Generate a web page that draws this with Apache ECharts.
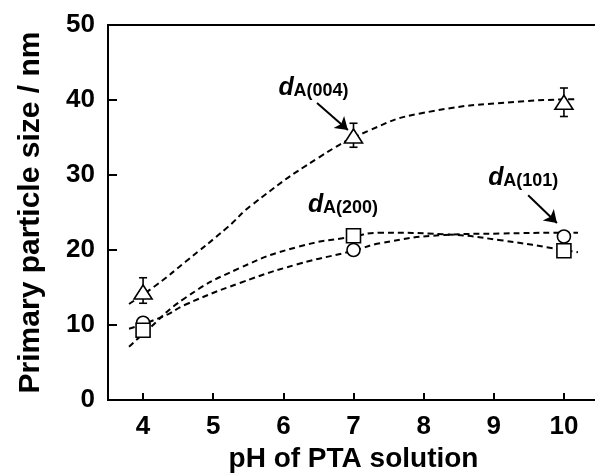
<!DOCTYPE html>
<html>
<head>
<meta charset="utf-8">
<script src="https://cdn.jsdelivr.net/npm/echarts@6/dist/echarts.min.js"></script>
<style>html,body{margin:0;padding:0;background:#fff}#main{width:595px;height:476px}</style>
</head>
<body>
<div id="main"></div>
<script>
var phTicks = [4, 5, 6, 7, 8, 9, 10];
var ph = [4, 7, 10];
// measured sizes (nm)
var d004 = [14.4, 35.2, 39.7];
var d004Low = [12.9, 33.7, 37.8];
var d004High = [16.3, 36.9, 41.6];
var d101 = [10.3, 20.0, 21.8];
var d200 = [9.3, 21.9, 19.9];
// dashed guide curves
var fit004 = [[3.8, 12.8], [4.2, 15.4], [4.6, 18.4], [5.2, 23.0], [5.55, 26.0], [6.5, 32.3], [7.24, 36.0], [7.95, 38.2], [9.38, 39.8], [10.2, 40.1]];
var fit200 = [[3.8, 7.1], [4.0, 8.8], [4.6, 13.6], [5.38, 17.6], [6.2, 20.4], [7.0, 21.8], [7.38, 22.3], [8.3, 22.1], [9.1, 21.3], [10.0, 20.0], [10.2, 19.7]];
var fit101 = [[3.8, 9.5], [4.3, 11.2], [4.6, 12.7], [5.38, 15.6], [6.2, 18.1], [7.0, 19.9], [7.38, 20.9], [8.3, 22.0], [9.1, 22.2], [10.0, 22.3], [10.2, 22.3]];
// annotations (top-left of the italic d)
var notes = [
  {sub: "A(004)", at: [5.93, 43.3]},
  {sub: "A(200)", at: [6.35, 27.7]},
  {sub: "A(101)", at: [8.92, 31.3]}
];
var arrows = [
  [[6.48, 39.6], [6.92, 36.0]],
  [[9.49, 27.3], [9.9, 23.6]]
];

var font = "'Liberation Sans', Arial, sans-serif";
var chart = echarts.init(document.getElementById("main"));

function pts(ys) {
  return ph.map(function (x, i) { return [x, ys[i]]; });
}
function fitLine(d) {
  return {
    type: "line", data: d, smooth: true, showSymbol: false, silent: true,
    lineStyle: {color: "#000", width: 2, type: [6, 4]}, z: 1
  };
}
function marks(d, sym, size) {
  return {
    type: "scatter", data: pts(d), symbol: sym, symbolSize: size, z: 4,
    itemStyle: {color: "#fff", borderColor: "#000", borderWidth: 1.6, opacity: 1}
  };
}

chart.setOption({
  animation: false,
  grid: {left: 108, top: 25, right: -4, bottom: 76, show: true, borderColor: "#000", borderWidth: 2,
    containLabel: false, outerBoundsMode: "none"},
  xAxis: {
    type: "value", min: 3.5, max: 10.5,
    name: "pH of PTA solution", nameLocation: "middle", nameGap: 43,
    nameTextStyle: {fontFamily: font, fontWeight: "bold", fontSize: 28, color: "#000"},
    axisLine: {lineStyle: {color: "#000", width: 2}},
    axisTick: {inside: true, length: 7, customValues: phTicks, lineStyle: {color: "#000", width: 2}},
    axisLabel: {customValues: phTicks, margin: 14, fontFamily: font, fontWeight: "bold", fontSize: 26, color: "#000"},
    splitLine: {show: false}
  },
  yAxis: {
    type: "value", min: 0, max: 50, interval: 10,
    name: "Primary particle size / nm", nameLocation: "middle", nameGap: 62, nameRotate: 90,
    nameTextStyle: {fontFamily: font, fontWeight: "bold", fontSize: 30, color: "#000"},
    axisLine: {lineStyle: {color: "#000", width: 2}},
    axisTick: {inside: true, length: 9, lineStyle: {color: "#000", width: 2}},
    axisLabel: {margin: 13, fontFamily: font, fontWeight: "bold", fontSize: 26, color: "#000"},
    splitLine: {show: false}
  },
  series: [
    fitLine(fit004), fitLine(fit200), fitLine(fit101),
    {
      type: "custom", z: 2,
      data: ph.map(function (x, i) { return [x, d004Low[i], d004High[i]]; }),
      renderItem: function (params, api) {
        var lo = api.coord([api.value(0), api.value(1)]);
        var hi = api.coord([api.value(0), api.value(2)]);
        var st = {stroke: "#000", lineWidth: 1.6};
        return {type: "group", children: [
          {type: "line", shape: {x1: lo[0], y1: lo[1], x2: hi[0], y2: hi[1]}, style: st},
          {type: "line", shape: {x1: lo[0] - 4, y1: lo[1], x2: lo[0] + 4, y2: lo[1]}, style: st},
          {type: "line", shape: {x1: hi[0] - 4, y1: hi[1], x2: hi[0] + 4, y2: hi[1]}, style: st}
        ]};
      }
    },
    marks(d004, "triangle", [18, 14]),
    marks(d101, "circle", 13),
    marks(d200, "rect", 14),
    {
      type: "lines", coordinateSystem: "cartesian2d", z: 5,
      data: arrows.map(function (c) { return {coords: c}; }),
      symbol: ["none", "arrow"], symbolSize: [9, 12],
      lineStyle: {color: "#000", width: 2, opacity: 1}
    }
  ]
});

var g = [];
notes.forEach(function (n) {
  var p = chart.convertToPixel({gridIndex: 0}, n.at);
  g.push({type: "text", x: p[0], y: p[1], z: 10, style: {text: "d", fontFamily: font,
    fontStyle: "italic", fontWeight: "bold", fontSize: 25, fill: "#000", verticalAlign: "top"}});
  g.push({type: "text", x: p[0] + 15, y: p[1] + 7, z: 10, style: {text: n.sub, fontFamily: font,
    fontWeight: "bold", fontSize: 18, fill: "#000", verticalAlign: "top"}});
});
chart.setOption({graphic: g});
</script>
</body>
</html>
